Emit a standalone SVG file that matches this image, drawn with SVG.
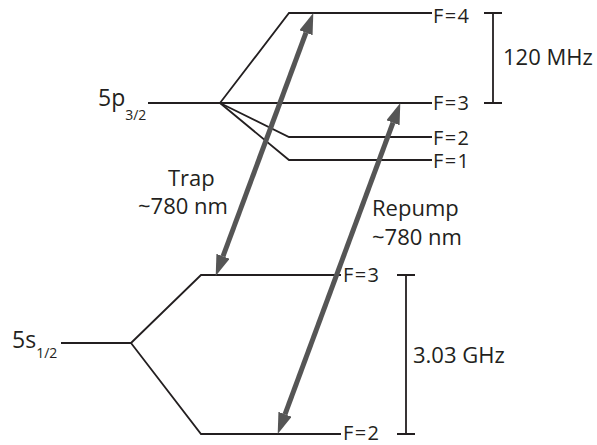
<svg xmlns="http://www.w3.org/2000/svg" width="597" height="445" viewBox="0 0 597 445">
<style>
.lvl{fill:none;stroke:#231f20;stroke-width:1.8;stroke-linejoin:miter}
.br{fill:none;stroke:#231f20;stroke-width:1.8}
.arr{fill:none;stroke:#555555;stroke-width:5;marker-start:url(#ah);marker-end:url(#ah)}
text{font-family:"Open Sans","Liberation Sans",sans-serif;fill:#231f20;font-size:22px}
.f{font-size:20px;letter-spacing:1.4px}
.big{font-size:23px}
.sub{font-size:14px}
</style>
<defs>
<marker id="ah" markerUnits="userSpaceOnUse" markerWidth="22" markerHeight="16" refX="0" refY="7" orient="auto-start-reverse">
<path d="M0,0 L21,7 L0,14 Z" fill="#555555"/>
</marker>
</defs>
<g id="level-5p32">
<path class="lvl" d="M148,103 H432"/>
<text class="big" x="98" y="106">5p<tspan class="sub" dy="14">3/2</tspan></text>
</g>
<g id="level-5p-F4">
<path class="lvl" d="M220,103 L289,13 H432"/>
<text class="f" x="433" y="23">F=4</text>
</g>
<g id="level-5p-F3">
<text class="f" x="433" y="110">F=3</text>
</g>
<g id="level-5p-F2">
<path class="lvl" d="M220,103 L289,137 H432"/>
<text class="f" x="433" y="145">F=2</text>
</g>
<g id="level-5p-F1">
<path class="lvl" d="M220,103 L289,160 H432"/>
<text class="f" x="433" y="168">F=1</text>
</g>
<g id="level-5s12">
<path class="lvl" d="M61,343 H131"/>
<text class="big" x="12" y="348">5s<tspan class="sub" dy="10">1/2</tspan></text>
</g>
<g id="level-5s-F3">
<path class="lvl" d="M131,343 L201,275 H341"/>
<text class="f" x="343" y="282">F=3</text>
</g>
<g id="level-5s-F2">
<path class="lvl" d="M131,343 L201,434 H341"/>
<text class="f" x="343" y="440">F=2</text>
</g>
<g id="split-120MHz">
<path class="br" d="M484,13 H502 M493,13 V103 M484,103 H502"/>
<text x="503" y="65">120 MHz</text>
</g>
<g id="split-303GHz">
<path class="br" d="M397,275 H415 M406,275 V434 M397,434 H415"/>
<text x="413" y="363">3.03 GHz</text>
</g>
<g id="label-trap">
<text x="168" y="186">Trap</text>
<text x="138" y="214">~780 nm</text>
</g>
<g id="label-repump">
<text x="372" y="216">Repump</text>
<text x="372" y="245">~780 nm</text>
</g>
<g id="connectors">
<path class="arr" d="M223,256.3 L306,32.7"/>
<path class="arr" d="M285,414.3 L393,122.7"/>
</g>
</svg>
